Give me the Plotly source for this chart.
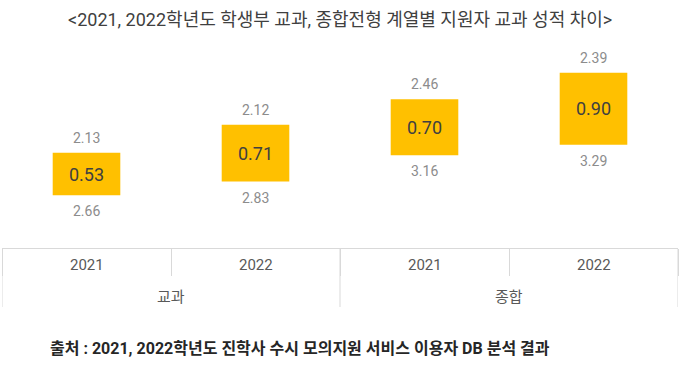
import plotly.graph_objects as go

groups = ["교과", "종합"]
years = ["2021", "2022", "2021", "2022"]
upper_grade = [2.13, 2.12, 2.46, 2.39]   # label shown above each bar
lower_grade = [2.66, 2.83, 3.16, 3.29]   # label shown below each bar (bar base)
gap = [0.53, 0.71, 0.70, 0.90]           # bar length / centre label

title_text = "&lt;2021, 2022학년도 학생부 교과, 종합전형 계열별 지원자 교과 성적 차이&gt;"
source_text = "출처 : 2021, 2022학년도 진학사 수시 모의지원 서비스 이용자 DB 분석 결과"

FONT = "Roboto, Noto Sans CJK KR, sans-serif"
PLOT_H = 208  # plot area height in px (for paper-coordinate offsets)

xpos = list(range(len(years)))

fig = go.Figure()
fig.add_trace(go.Bar(
    x=xpos,
    y=gap,
    base=lower_grade,
    width=0.4,
    marker=dict(color="#FFC000", line=dict(width=0)),
    text=[f"{v:.2f}" for v in gap],
    textposition="inside",
    insidetextanchor="middle",
    textangle=0,
    textfont=dict(family=FONT, size=18, color="#404040"),
    hoverinfo="skip",
))

annotations = []
for i in xpos:
    top = lower_grade[i] + gap[i]
    annotations.append(dict(x=i, y=top, xref="x", yref="y", text=f"{upper_grade[i]:.2f}",
                            showarrow=False, yshift=15, font=dict(family=FONT, size=14, color="#8c8c8c")))
    annotations.append(dict(x=i, y=lower_grade[i], xref="x", yref="y", text=f"{lower_grade[i]:.2f}",
                            showarrow=False, yshift=-16, font=dict(family=FONT, size=14, color="#8c8c8c")))
    annotations.append(dict(x=i, y=-17 / PLOT_H, xref="x", yref="paper", text=years[i],
                            showarrow=False, yanchor="middle", font=dict(family=FONT, size=15, color="#595959")))
for g, name in enumerate(groups):
    annotations.append(dict(x=2 * g + 0.5, y=-49 / PLOT_H, xref="x", yref="paper", text=name,
                            showarrow=False, yanchor="middle", font=dict(family=FONT, size=15, color="#595959")))

annotations.append(dict(x=0.5, y=(248 - 20) / PLOT_H, xref="paper", yref="paper", text=title_text,
                        showarrow=False, xanchor="center", yanchor="middle",
                        font=dict(family=FONT, size=18, color="#404040")))
annotations.append(dict(x=(48 - 2) / 676, y=(248 - 348) / PLOT_H, xref="paper", yref="paper", text="<b>" + source_text + "</b>",
                        showarrow=False, xanchor="left", yanchor="middle",
                        font=dict(family=FONT, size=16, color="#262626")))

# full-height separators at the outer edges and between groups
shapes = []
for xb in [-0.5, 1.5, 3.5]:
    shapes.append(dict(type="line", xref="x", yref="paper", x0=xb, x1=xb, y0=0, y1=-59 / PLOT_H,
                       line=dict(color="#d9d9d9", width=1)))

fig.update_layout(
    width=680, height=370,
    margin=dict(l=2, r=2, t=40, b=122),
    paper_bgcolor="white", plot_bgcolor="white",
    showlegend=False,
    annotations=annotations,
    shapes=shapes,
    xaxis=dict(
        range=[-0.5, 3.5],
        tickmode="array", tickvals=[-0.5, 0.5, 1.5, 2.5, 3.5],
        showticklabels=False,
        showline=True, linecolor="#d9d9d9", linewidth=1,
        ticks="outside", ticklen=27, tickcolor="#d9d9d9",
        showgrid=False, zeroline=False, automargin=False,
    ),
    yaxis=dict(range=[2.0, 4.6], visible=False, showgrid=False, zeroline=False),
)

fig.write_html("out.html", config={"displayModeBar": False},
               post_script="document.body.style.margin='0';")
